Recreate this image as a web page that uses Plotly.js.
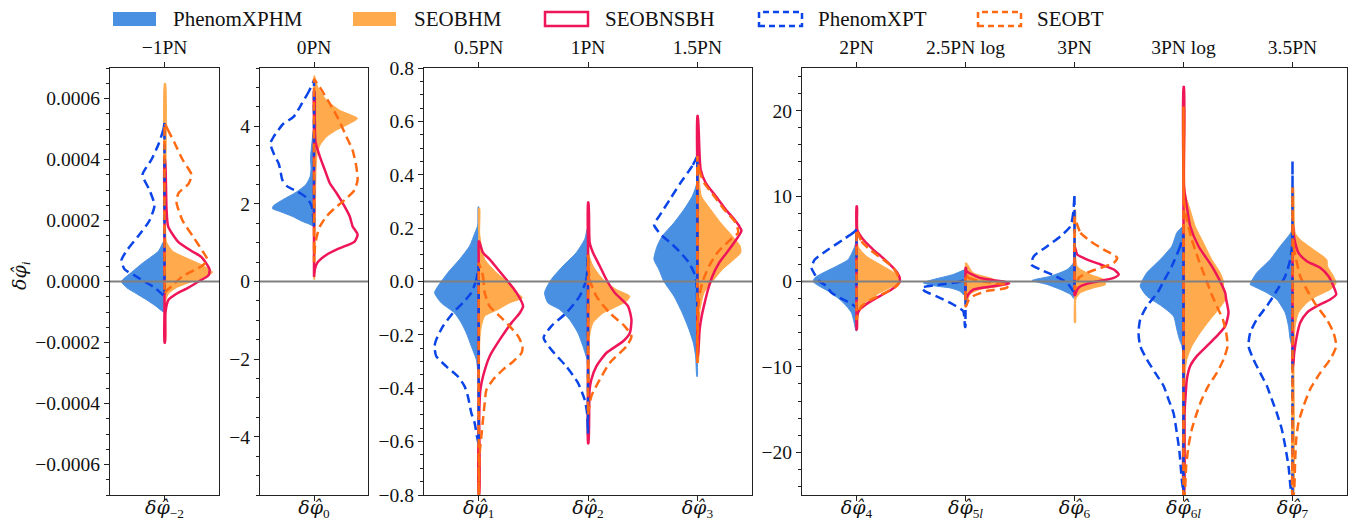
<!DOCTYPE html>
<html>
<head>
<meta charset="utf-8">
<script src="https://cdn.plot.ly/plotly-3.0.1.min.js"></script>
<style>html,body{margin:0;padding:0;background:#fff;}#chart{width:1352px;height:524px;}</style>
</head>
<body>
<div id="chart"></div>
<script>
// ---------- labels ----------
const seriesNames = ['PhenomXPHM', 'SEOBHM', 'SEOBNSBH', 'PhenomXPT', 'SEOBT'];
const PHI = '<i><span style="font-family:DejaVu Serif">δφ̂</span></i>';
const bottomLabels = [
  [PHI + '<sub>−2</sub>'],
  [PHI + '<sub>0</sub>'],
  [PHI + '<sub>1</sub>', PHI + '<sub>2</sub>', PHI + '<sub>3</sub>'],
  [PHI + '<sub>4</sub>', PHI + '<sub>5<i>l</i></sub>', PHI + '<sub>6</sub>', PHI + '<sub>6<i>l</i></sub>', PHI + '<sub>7</sub>']
];
const topLabels = [
  ['−1PN'],
  ['0PN'],
  ['0.5PN', '1PN', '1.5PN'],
  ['2PN', '2.5PN log', '3PN', '3PN log', '3.5PN']
];
const yRanges = [[-0.0007, 0.0007], [-5.5, 5.5], [-0.8, 0.8], [-25, 25]];
const yDticks = [0.0002, 2, 0.2, 10];
const yMinor = [0.00005, 0.5, 0.05, 2];
const yFormats = ['.4f', 'd', '.1f', 'd'];

// ---------- violin half-profiles: [value, density (relative width)] from top to bottom ----------
// δφ-2
const XPHM_m2 = [[0.00013,1],[0.0001,6],[0.00006,22],[0.00003,33],[0,43],[-0.00002,38],[-0.00004,28],[-0.00006,18],[-0.00008,9],[-0.0001,1]];
const SEOBHM_m2 = [[0.00065,1],[0.0002,1],[0.00013,2],[0.0001,8],[0.00008,20],[0.00005,40],[0.00003,48],[0.00001,38],[0,28],[-0.00002,12],[-0.00004,4],[-0.00006,1.5],[-0.0002,1]];
const SEOBNSBH_m2 = [[0.0004,0.5],[0.00024,2],[0.00018,3.7],[0.00013,13.7],[0.0001,27],[0.00008,37],[0.00004,45],[0.00002,44],[0,34],[-0.00002,24],[-0.00004,12],[-0.00006,4],[-0.0001,1],[-0.0002,0.5]];
const XPT_m2 = [[0.00052,0],[0.0005,1],[0.00045,6],[0.0004,13],[0.00035,22],[0.0003,15],[0.00025,10],[0.0002,15],[0.00015,26],[0.0001,38],[0.00007,43],[0.00004,40],[0.00002,30],[0,20],[-0.00002,10],[-0.00004,3],[-0.00005,0]];
const SEOBT_m2 = [[0.00052,0],[0.0005,3],[0.000455,10],[0.0004,18],[0.00035,27],[0.00032,24],[0.00029,14],[0.00026,12],[0.0002,18],[0.00015,28],[0.0001,38],[0.00007,43],[0.00005,37],[0.000017,18],[-0.000016,7],[-0.00003,2],[-0.00004,0]];
// δφ0
const XPHM_0 = [[3.9,0.5],[3.6,2],[3.2,3.5],[2.9,3],[2.7,4],[2.5,8],[2.3,18],[2.1,32],[1.95,41],[1.88,42],[1.8,34],[1.68,22],[1.55,12],[1.47,4],[1.42,0.5]];
const SEOBHM_0 = [[5.3,0.5],[5.0,4],[4.67,12.7],[4.41,26],[4.2,44],[4.07,36],[3.9,22.7],[3.73,12.7],[3.51,6],[3.3,3.3],[2.87,2],[2.0,1.5],[1.0,1],[0.05,0.5]];
const SEOBNSBH_0 = [[4.9,0.5],[4.2,0.8],[3.6,1.5],[3.21,6],[2.87,11],[2.53,16],[2.28,22.7],[2.02,29],[1.68,36],[1.42,39],[1.21,44],[1.03,41],[0.86,26],[0.69,12.7],[0.48,3.3],[0.32,1],[0.12,0]];
const XPT_0 = [[5.18,0],[4.92,4.7],[4.58,12.3],[4.24,20.7],[4.07,30.7],[3.73,40.7],[3.56,44],[3.3,40.7],[3.04,35.7],[2.87,34],[2.62,32],[2.45,27],[2.32,17],[2.15,7],[1.94,2.3],[1.4,0]];
const SEOBT_0 = [[5.22,0],[5.0,6],[4.58,16],[4.2,24.3],[3.73,32.7],[3.38,39],[2.96,42.7],[2.62,44],[2.36,41],[2.1,31],[1.89,21],[1.68,12.7],[1.42,6],[1.15,2.7],[0.9,1],[0.5,0]];
// δφ1
const XPHM_1 = [[0.28,0.5],[0.21,1],[0.18,4],[0.133,9],[0.083,19],[0.033,30.7],[-0.018,40.7],[-0.042,44],[-0.08,37.3],[-0.118,24],[-0.155,17.3],[-0.193,12.3],[-0.243,7.3],[-0.293,2.3],[-0.34,0.5]];
const SEOBHM_1 = [[0.275,1],[0.18,1],[0.133,2.7],[0.083,6],[0.033,17.7],[-0.018,34.3],[-0.042,38],[-0.061,43.7],[-0.08,31],[-0.105,19.3],[-0.13,6],[-0.168,2.7],[-0.218,1.2],[-0.5,1],[-0.8,1]];
const SEOBNSBH_1 = [[0.15,0.5],[0.108,4.3],[0.083,11],[0.045,19.3],[0.0075,27.7],[-0.042,37.7],[-0.093,44.3],[-0.118,41],[-0.155,32.7],[-0.218,21],[-0.28,11],[-0.356,4.3],[-0.406,1.7],[-0.5,0.5],[-0.8,0.5]];
const XPT_1 = [[0.06,0],[0.0075,2.3],[-0.042,7.3],[-0.08,15.7],[-0.118,25.7],[-0.168,35.7],[-0.218,42.3],[-0.243,44],[-0.28,42.3],[-0.318,32.3],[-0.356,20.7],[-0.393,14],[-0.431,10.7],[-0.493,7.3],[-0.53,4],[-0.58,1.7],[-0.61,0]];
const SEOBT_1 = [[0.07,0],[0.02,4.3],[-0.042,6],[-0.093,11],[-0.13,21],[-0.168,31],[-0.205,39.3],[-0.243,43.7],[-0.268,42.7],[-0.3,34.3],[-0.33,24.3],[-0.368,14.3],[-0.406,7.7],[-0.456,6],[-0.518,4.3],[-0.58,2.7],[-0.643,1],[-0.8,0]];
// δφ2
const XPHM_2 = [[0.2,0.5],[0.158,3.3],[0.108,11.7],[0.058,25],[0.0075,36.7],[-0.042,43.3],[-0.08,40],[-0.105,28.3],[-0.143,18.3],[-0.193,10],[-0.243,5],[-0.293,0.5]];
const SEOBHM_2 = [[0.22,1],[0.1,1],[0.058,5],[0.0075,15],[-0.03,28.3],[-0.055,41.7],[-0.074,38.3],[-0.1,25],[-0.118,15],[-0.155,5],[-0.2,1.7],[-0.45,1]];
const SEOBNSBH_2 = [[0.296,0.5],[0.145,1.7],[0.108,5],[0.058,11.7],[0.0075,18.3],[-0.042,26.7],[-0.093,40],[-0.143,43.3],[-0.193,41.7],[-0.224,35],[-0.268,18.3],[-0.318,8.3],[-0.368,3.3],[-0.41,1.5],[-0.606,0.5]];
const XPT_2 = [[0.1,0],[0.0075,1.7],[-0.055,8.3],[-0.118,21.7],[-0.168,36.7],[-0.211,44.3],[-0.255,36.7],[-0.318,21.7],[-0.38,10],[-0.443,3.3],[-0.49,1],[-0.57,0]];
const SEOBT_2 = [[0.1,0],[0.0075,1.7],[-0.055,8.3],[-0.118,21.7],[-0.168,36.7],[-0.205,43.3],[-0.243,38.3],[-0.305,21.7],[-0.368,11.7],[-0.43,3.3],[-0.5,0]];
// δφ3
const XPHM_3 = [[0.57,0.5],[0.37,0.5],[0.32,5],[0.27,13.3],[0.22,23.3],[0.17,35],[0.133,40],[0.083,43.3],[0.045,38.3],[0,33.3],[-0.055,23.3],[-0.118,15],[-0.18,8.3],[-0.23,4],[-0.28,1.7],[-0.356,0.5]];
const SEOBHM_3 = [[0.47,1],[0.396,1.7],[0.32,4],[0.27,13.3],[0.22,23.3],[0.17,35],[0.133,42.7],[0.108,43.3],[0.083,36.7],[0.045,25],[0,15],[-0.042,6.7],[-0.105,2.7],[-0.15,1.7],[-0.305,1]];
const SEOBNSBH_3 = [[0.62,0.5],[0.42,3.3],[0.37,8.3],[0.32,18.3],[0.27,28.3],[0.233,36.7],[0.208,41.7],[0.19,44],[0.164,40],[0.12,31.7],[0.07,21.7],[0.02,15],[-0.03,10.7],[-0.08,7.3],[-0.13,4.3],[-0.18,2.3],[-0.28,0.5]];
const XPT_3 = [[0.47,0],[0.433,5],[0.37,16.7],[0.308,27.3],[0.245,38],[0.214,43.3],[0.177,36.7],[0.145,26.7],[0.108,16.7],[0.07,8.3],[0.033,3.3],[-0.003,1],[-0.1,0]];
const SEOBT_3 = [[0.47,0],[0.42,1.7],[0.37,6.7],[0.32,16.7],[0.27,26.7],[0.22,38.3],[0.183,40.7],[0.158,33.3],[0.108,20],[0.058,11.7],[-0.003,5],[-0.065,1.7],[-0.305,0]];
// δφ4
const XPHM_4 = [[4.7,0.5],[4.13,1.7],[2.57,8.3],[1.79,20],[1.02,33.3],[0.43,41.7],[0,43.3],[-0.35,40],[-1.13,28.3],[-2.1,16.7],[-2.89,10],[-3.66,5],[-4.83,2.3],[-5.8,0.5]];
const SEOBHM_4 = [[7.25,1],[4.1,1.7],[2.96,10],[1.79,26.7],[0.82,40],[0,43.3],[-0.55,36.7],[-1.32,23.3],[-2.1,13.3],[-2.89,5],[-3.66,1.7],[-5.6,1]];
const SEOBNSBH_4 = [[8.8,0.5],[6.08,0.7],[4.91,6.7],[3.74,16.7],[2.57,28.3],[1.4,38.3],[0.62,42.7],[0,43.3],[-0.16,42.7],[-0.94,35],[-1.71,23.3],[-2.5,11.7],[-3.27,3.3],[-4.0,0.7],[-5.6,0.3]];
const XPT_4 = [[6.08,0],[5.7,3.3],[4.91,13.3],[3.74,28.3],[2.57,41.7],[1.6,45],[0.82,41.7],[0,36.7],[-0.55,30],[-1.32,25],[-1.91,16.7],[-2.5,6.7],[-2.89,1.7],[-3.1,0]];
const SEOBT_4 = [[6.08,0],[4.71,5],[3.74,13.3],[2.57,26.7],[1.6,36.7],[0.62,41.7],[0,42.7],[-0.55,40],[-1.32,28.3],[-2.1,15],[-2.89,5],[-3.66,1.7],[-4.5,0]];
// δφ5l
const XPHM_5l = [[1.4,0.5],[0.82,12.3],[0.23,32.3],[0,39],[-0.16,42.3],[-0.55,29],[-0.74,15.7],[-1.13,5.7],[-1.7,0.5]];
const SEOBHM_5l = [[2.18,1],[1.02,7.7],[0.43,24.3],[0,34.3],[-0.16,39.3],[-0.55,34.3],[-0.94,14.3],[-1.52,4.3],[-2.9,1]];
const SEOBNSBH_5l = [[1.6,0.5],[1.2,1],[0.43,14.3],[0.15,27.7],[-0.08,41],[-0.23,43.6],[-0.55,27.7],[-0.94,7.7],[-1.52,2.7],[-2.1,0.3]];
const XPT_5l = [[0.3,0],[0,5],[-0.35,25],[-0.74,44],[-1.13,40.7],[-1.91,25.7],[-2.69,12.3],[-3.47,2.3],[-4.5,1],[-5.3,0.5]];
const SEOBT_5l = [[0.9,0],[0.43,3],[0.1,12],[-0.2,30],[-0.45,43],[-0.74,41],[-1.13,21],[-1.71,7.7],[-2.3,2.7],[-2.9,0.5]];
// δφ6
const XPHM_6 = [[2.5,0.5],[2.18,1],[1.4,7.3],[0.62,24],[0.12,42.3],[-0.35,27.3],[-0.94,14],[-1.52,4],[-2.0,0.5]];
const SEOBHM_6 = [[8.4,1],[1.79,2.7],[0.82,16],[0.23,29.3],[-0.35,31],[-0.74,19.3],[-1.32,6],[-2.0,1.5],[-4.83,1]];
const SEOBNSBH_6 = [[4.0,0.5],[3.16,2.7],[2.57,12.7],[1.99,26],[1.4,39.3],[0.82,44.3],[0.43,39.3],[-0.16,16],[-0.55,6],[-0.94,2.7],[-1.6,0.5]];
const XPT_6 = [[10.2,0],[8.0,1.3],[6.47,4],[5.3,14],[4.13,27.3],[2.96,40.7],[1.99,43.3],[1.4,34],[0.62,19],[-0.16,7.3],[-0.94,2.3],[-1.3,0]];
const SEOBT_6 = [[7.6,0],[5.7,6],[4.71,16],[3.74,29.3],[2.77,42.7],[2.18,39.3],[1.6,26],[1.02,12.7],[0.43,4.3],[-0.35,2],[-1.0,0]];
// δφ6l
const XPHM_6l = [[6.47,0.5],[5.7,6.7],[4.13,11.7],[2.57,23.3],[1.02,36.7],[0,41.7],[-0.55,43.3],[-1.71,36.7],[-2.89,21.7],[-4.06,10],[-5.6,6.7],[-6.8,4],[-7.5,1.7],[-8.2,0.5]];
const SEOBHM_6l = [[20.5,1],[10.4,1.7],[8.4,6.7],[6.47,11.7],[4.52,20],[2.57,28.3],[1.02,36.7],[0,40],[-0.94,40],[-2.1,41.7],[-3.27,35],[-4.44,26.7],[-6.0,16.7],[-7.57,8.3],[-9.12,3.3],[-10.7,1.7],[-25,1]];
const SEOBNSBH_6l = [[22.8,0.5],[11.1,0.5],[8.8,3.3],[6.47,6.7],[4.13,15],[1.79,28.3],[0,36.7],[-1.32,41.7],[-2.1,42.7],[-3.66,45],[-5.23,41.7],[-6.4,33.3],[-7.57,23.3],[-8.74,13.3],[-9.9,6.7],[-11.5,3.3],[-13.0,2.3],[-15.4,1],[-25,0.5]];
const XPT_6l = [[5.5,0],[4.13,3.3],[1.79,11.7],[0,20],[-1.32,26],[-2.89,36.7],[-4.44,43.3],[-6.0,45],[-7.57,43.3],[-9.12,36.7],[-10.7,28.3],[-12.2,20],[-13.8,15],[-15.4,10],[-17.7,6.7],[-20.0,4],[-23.2,1.7],[-24.7,0]];
const SEOBT_6l = [[20.5,0],[9.6,0.5],[7.25,3.3],[4.91,8.3],[2.57,15],[0,23.3],[-1.32,27.5],[-2.89,33.3],[-4.44,39.3],[-6.0,42.7],[-7.57,44],[-9.12,40],[-10.7,33.3],[-12.2,25],[-13.8,18.3],[-15.4,13.3],[-17.3,8.3],[-19.3,5],[-21.6,2.7],[-24,1.7],[-25,1]];
// δφ7
const XPHM_7 = [[6.2,0.5],[5.7,1.7],[4.13,12.3],[2.57,22.3],[1.02,35.7],[-0.35,42.3],[-0.55,39],[-1.32,25.7],[-2.1,15.7],[-3.66,7.3],[-5.23,4],[-6.8,2.3],[-7.5,0.5]];
const SEOBHM_7 = [[11.1,1],[5.7,2.7],[4.91,7.7],[3.74,21],[2.57,34.3],[1.79,35],[0.62,41],[-0.2,43.7],[-0.94,37.7],[-1.71,24.3],[-2.5,14.3],[-3.66,6],[-5.2,2.7],[-8,1.5],[-25,1]];
const SEOBNSBH_7 = [[6.5,0.5],[5.7,1],[4.52,2.7],[3.35,6],[2.38,14.3],[1.6,27.7],[0.62,36],[-0.55,41],[-1.52,43.7],[-2.1,37.7],[-2.89,24.3],[-3.66,14.3],[-4.83,7.7],[-6.4,4.3],[-8.35,1.7],[-9.9,0.5]];
const XPT_7 = [[14.1,0],[4.13,0.5],[2.57,2.3],[0.62,7.3],[-1.32,17],[-2.89,25.7],[-4.44,35.7],[-6.0,42.3],[-7.57,44],[-9.12,39],[-10.7,32.3],[-12.2,25.7],[-13.8,20.7],[-15.4,15.7],[-17.3,10.7],[-19.3,7.3],[-21.6,4],[-24.3,1.7],[-25,0]];
const SEOBT_7 = [[11,0],[4.13,1],[2.57,3.7],[0.62,7.7],[-0.94,14.3],[-2.89,24.3],[-4.44,34.3],[-6.0,41],[-7.57,43.7],[-9.12,37.7],[-10.7,27.7],[-12.6,17.7],[-14.6,11],[-16.5,6],[-18.5,3.7],[-20.8,2.7],[-25,1]];

// ---------- layout helpers ----------
const W = 1352, H = 524;
const DENS_TO_X = 1 / 109;          // density units -> category units
const panelPx = [[110, 219], [260, 368], [424, 752], [802, 1347]];
const plotTop = 68, plotBottom = 495;
const yDomain = [1 - plotBottom / H, 1 - plotTop / H];

const COLORS = {
  PhenomXPHM: '#4a90e2', SEOBHM: '#ffaa4c', SEOBNSBH: '#ee1558', PhenomXPT: '#0b45e8', SEOBT: '#ff6a12'
};

// variable -> (panel, position, profiles in series order)
const variables = [
  [0, 0, [XPHM_m2, SEOBHM_m2, SEOBNSBH_m2, XPT_m2, SEOBT_m2]],
  [1, 0, [XPHM_0, SEOBHM_0, SEOBNSBH_0, XPT_0, SEOBT_0]],
  [2, 0, [XPHM_1, SEOBHM_1, SEOBNSBH_1, XPT_1, SEOBT_1]],
  [2, 1, [XPHM_2, SEOBHM_2, SEOBNSBH_2, XPT_2, SEOBT_2]],
  [2, 2, [XPHM_3, SEOBHM_3, SEOBNSBH_3, XPT_3, SEOBT_3]],
  [3, 0, [XPHM_4, SEOBHM_4, SEOBNSBH_4, XPT_4, SEOBT_4]],
  [3, 1, [XPHM_5l, SEOBHM_5l, SEOBNSBH_5l, XPT_5l, SEOBT_5l]],
  [3, 2, [XPHM_6, SEOBHM_6, SEOBNSBH_6, XPT_6, SEOBT_6]],
  [3, 3, [XPHM_6l, SEOBHM_6l, SEOBNSBH_6l, XPT_6l, SEOBT_6l]],
  [3, 4, [XPHM_7, SEOBHM_7, SEOBNSBH_7, XPT_7, SEOBT_7]]
];

const seriesStyle = [
  {side: -1, fill: true,  dash: 'solid'},
  {side:  1, fill: true,  dash: 'solid'},
  {side:  1, fill: false, dash: 'solid'},
  {side: -1, fill: false, dash: '9px,5px'},
  {side:  1, fill: false, dash: '9px,5px'}
];

function halfViolin(panel, pos, prof, s) {
  const name = seriesNames[s], st = seriesStyle[s], col = COLORS[name];
  const xs = [], ys = [];
  prof.forEach(p => { xs.push(pos + st.side * p[1] * DENS_TO_X); ys.push(p[0]); });
  for (let i = prof.length - 1; i >= 0; i--) { xs.push(pos); ys.push(prof[i][0]); }
  xs.push(xs[0]); ys.push(ys[0]);
  const ax = panel === 0 ? '' : String(panel + 1);
  return {
    type: 'scatter', mode: 'lines', x: xs, y: ys, xaxis: 'x' + ax, yaxis: 'y' + ax,
    name: name, showlegend: false, hoverinfo: 'skip',
    fill: st.fill ? 'toself' : 'none', fillcolor: st.fill ? col : 'rgba(0,0,0,0)',
    line: {color: col, width: st.fill ? 1 : 2.5, dash: st.dash, shape: 'spline', smoothing: 0.6}
  };
}

const traces = [];
for (let s = 0; s < 5; s++) {
  variables.forEach(v => traces.push(halfViolin(v[0], v[1], v[2][s], s)));
}

const layout = {
  width: W, height: H,
  margin: {l: 0, r: 0, t: 0, b: 0},
  paper_bgcolor: '#fff', plot_bgcolor: '#fff',
  font: {family: 'Liberation Serif, serif', size: 19.5, color: '#111'},
  showlegend: false,
  shapes: [], annotations: []
};

for (let p = 0; p < 4; p++) {
  const ax = p === 0 ? '' : String(p + 1);
  const n = bottomLabels[p].length;
  const pos = bottomLabels[p].map((_, i) => i);
  const dom = [panelPx[p][0] / W, panelPx[p][1] / W];
  const xr = [-0.5, n - 0.5];
  layout['xaxis' + ax] = {
    domain: dom, range: xr, anchor: 'y' + ax, tickvals: pos, ticktext: bottomLabels[p],
    ticks: 'outside', ticklen: 5, tickcolor: '#222', ticklabelstandoff: -10,
    tickfont: {size: 19},
    showline: true, mirror: true,
    linecolor: '#222', linewidth: 1.2, showgrid: false, zeroline: false, fixedrange: true
  };
  layout['yaxis' + ax] = {
    domain: yDomain, range: yRanges[p], anchor: 'x' + ax, dtick: yDticks[p], tick0: 0,
    tickformat: yFormats[p], ticks: 'outside', ticklen: 5, tickcolor: '#222',
    minor: {dtick: yMinor[p], ticks: 'outside', ticklen: 3, tickcolor: '#222', showgrid: false},
    showline: true, mirror: true, linecolor: '#222', linewidth: 1.2,
    showgrid: false, zeroline: false, fixedrange: true
  };
  // top secondary axis
  const tix = String(p + 5);
  layout['xaxis' + tix] = {
    overlaying: 'x' + ax, anchor: 'y' + ax, side: 'top', range: xr,
    tickvals: pos, ticktext: topLabels[p], ticks: 'outside', ticklen: 5, tickcolor: '#222',
    showline: false, showgrid: false, zeroline: false, fixedrange: true
  };
  traces.push({type: 'scatter', mode: 'markers', x: pos, y: pos.map(() => null),
    xaxis: 'x' + tix, yaxis: 'y' + ax, showlegend: false, hoverinfo: 'skip'});
  // zero reference line
  layout.shapes.push({type: 'line', xref: 'x' + ax + ' domain', yref: 'y' + ax,
    x0: 0, x1: 1, y0: 0, y1: 0, line: {color: '#808080', width: 2}, layer: 'above'});
}

// y-axis title
layout.annotations.push({xref: 'paper', yref: 'paper', x: 20 / W, y: 1 - 276 / H,
  text: PHI + '<sub><i>i</i></sub>', textangle: -90, showarrow: false,
  xanchor: 'center', yanchor: 'middle', font: {size: 19}});

// legend (drawn manually to match the reference handles)
const legendPx = [[113, 171], [353, 412], [545, 603], [759, 816], [978, 1035]];
seriesNames.forEach((nm, i) => {
  const st = seriesStyle[i], col = COLORS[nm];
  const x0 = legendPx[i][0];
  layout.shapes.push({type: 'rect', xref: 'paper', yref: 'paper',
    x0: x0 / W, x1: (x0 + 43) / W, y0: 1 - 26 / H, y1: 1 - 12 / H,
    fillcolor: st.fill ? col : 'rgba(0,0,0,0)',
    line: {color: col, width: st.fill ? 0 : 2.5, dash: st.dash === 'solid' ? 'solid' : '6px,4px'}});
  layout.annotations.push({xref: 'paper', yref: 'paper', x: legendPx[i][1] / W, y: 1 - 19 / H,
    text: nm, showarrow: false, xanchor: 'left', yanchor: 'middle', font: {size: 21}});
});

Plotly.newPlot('chart', traces, layout, {displayModeBar: false, staticPlot: true});
</script>
</body>
</html>
